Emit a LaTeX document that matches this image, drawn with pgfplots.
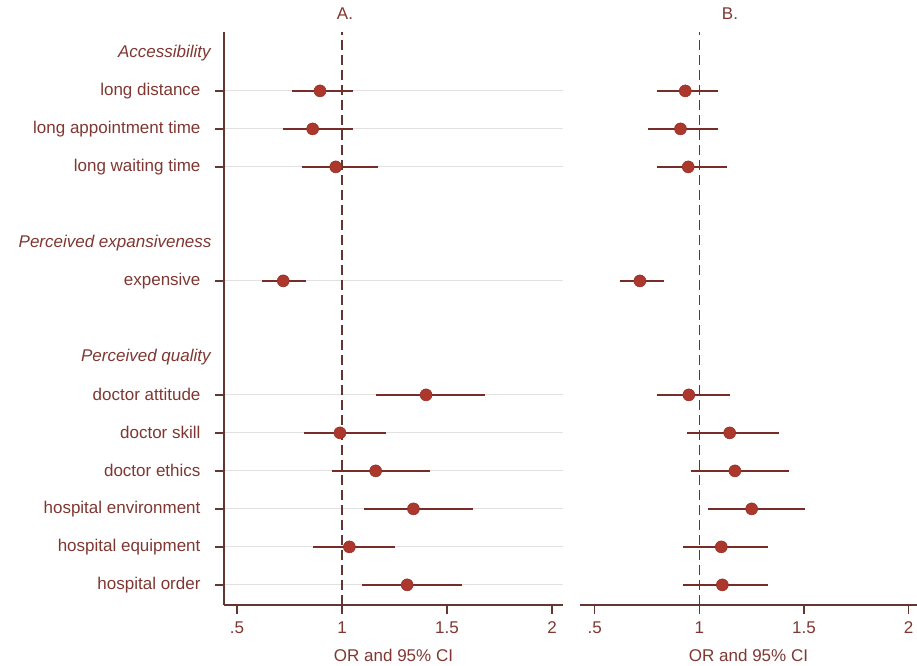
\documentclass[border=0pt]{standalone}
\usepackage{fontspec}
\setmainfont{Liberation Sans}
\usepackage{pgfplots}
\pgfplotsset{compat=1.18}
\usepackage{pgfplotstable}

\definecolor{mk}{RGB}{172,55,45}
\definecolor{ci}{RGB}{118,45,40}
\definecolor{txt}{RGB}{128,55,50}
\definecolor{ax}{RGB}{98,55,50}
\definecolor{gridc}{RGB}{226,224,224}

% y: 14 = top row, 0 = hospital order
\pgfplotstableread{
y   or     lo    hi
13  0.895  0.76  1.05
12  0.86   0.72  1.05
11  0.97   0.81  1.17
8   0.72   0.62  0.83
5   1.40   1.16  1.68
4   0.99   0.82  1.21
3   1.16   0.95  1.42
2   1.34   1.105 1.625
1   1.035  0.86  1.25
0   1.31   1.095 1.57
}\panelA

\pgfplotstableread{
y   or     lo    hi
13  0.933  0.80  1.09
12  0.91   0.755 1.09
11  0.947  0.80  1.13
8   0.716  0.62  0.83
5   0.95   0.80  1.145
4   1.145  0.94  1.38
3   1.17   0.96  1.43
2   1.25   1.04  1.505
1   1.105  0.92  1.33
0   1.11   0.92  1.33
}\panelB

\newcommand{\fs}{\fontsize{17}{20}\selectfont}

\pgfplotsset{
  forest/.style={
    scale only axis, height=573pt,
    ymin=-0.53, ymax=14.55,
    xtick={0.5,1,1.5,2}, xticklabels={.5,1,1.5,2},
    ytick={0,1,2,3,4,5,8,11,12,13},
    ymajorgrids, grid style={gridc, line width=0.9pt},
    axis line style={ax, line width=1.6pt},
    tick style={ax, line width=1.3pt},
    major tick length=9pt,
    tick align=outside,
    ticklabel style={txt, font=\fs},
    xticklabel style={yshift=-4pt},
    xlabel={OR and 95\% CI},
    xlabel style={txt, font=\fs, yshift=-9pt},
    clip=false,
  },
  ciplot/.style={
    only marks, mark=*, mark size=6pt,
    mark options={fill=mk, draw=mk!85!black, line width=0.5pt},
    error bars/.cd, x dir=both, x explicit,
      error mark=none,
      error bar style={ci, line width=2pt},
  },
}

\begin{document}
\begin{tikzpicture}
\useasboundingbox (0,0) rectangle (917pt,665pt);

% panel A
\begin{axis}[forest, at={(224pt,60pt)}, anchor=south west,
  width=339pt, xmin=0.438, xmax=2.052,
  axis x line*=bottom, axis y line*=left,
  yticklabels={hospital order,hospital equipment,hospital environment,doctor ethics,doctor skill,doctor attitude,expensive,long waiting time,long appointment time,long distance},
  yticklabel style={xshift=-11pt},
  extra y ticks={6,9,14},
  extra y tick labels={\textit{Perceived quality},\textit{Perceived expansiveness},\textit{Accessibility}},
  extra y tick style={grid=none, major tick length=0pt, yticklabel style={xshift=2pt}},
]
\addplot[ax, line width=1.3pt, dash pattern=on 10pt off 5pt] coordinates {(1,-0.53) (1,14.55)};
\addplot[ciplot] table[x=or, y=y, x error plus expr=\thisrow{hi}-\thisrow{or}, x error minus expr=\thisrow{or}-\thisrow{lo}] {\panelA};
\node[txt, font=\fs, anchor=base] at (rel axis cs:0.357,1) [yshift=12pt] {A.};
\end{axis}

% panel B
\begin{axis}[forest, at={(580pt,60pt)}, anchor=south west,
  width=337pt, xmin=0.43, xmax=2.04,
  axis x line*=bottom, axis y line=none,
  yticklabels={}, ytick style={draw=none},
]
\addplot[ax, line width=1.3pt, dash pattern=on 10pt off 5pt] coordinates {(1,-0.53) (1,14.55)};
\addplot[ciplot] table[x=or, y=y, x error plus expr=\thisrow{hi}-\thisrow{or}, x error minus expr=\thisrow{or}-\thisrow{lo}] {\panelB};
\node[txt, font=\fs, anchor=base] at (rel axis cs:0.445,1) [yshift=12pt] {B.};
\end{axis}
\end{tikzpicture}
\end{document}
